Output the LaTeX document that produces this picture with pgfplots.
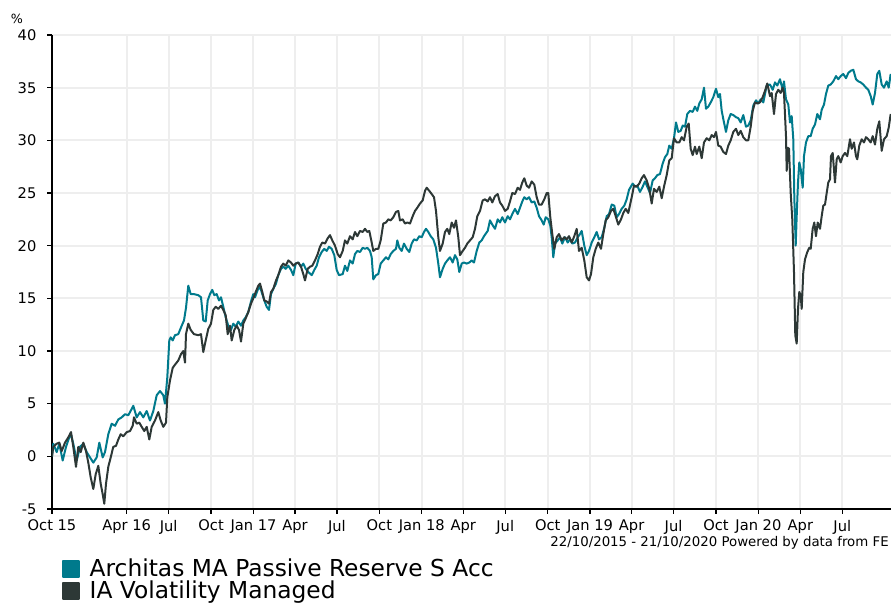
\documentclass[border=0pt]{standalone}
\usepackage{fontspec}
\setmainfont{DejaVu Sans}
\usepackage{pgfplots}
\pgfplotsset{compat=1.18}
\definecolor{fteal}{RGB}{0,122,140}
\definecolor{fdark}{RGB}{45,56,54}
\definecolor{fgrid}{RGB}{238,238,238}
\begin{document}
\begin{tikzpicture}
\begin{axis}[
 at={(0,0)}, anchor=south west,
 scale only axis, width=629.25pt, height=355.5pt,
 xmin=0, xmax=1819.6, ymin=-5, ymax=40,
 x filter/.expression={(x-52)/0.4611},
 axis x line*=bottom, axis y line*=left,
 axis line style={line width=1.1pt,black},
 xtick={0,162,253,345,437,527,618,710,802,892,983,1075,1167,1257,1348,1440,1532,1623,1714},
 xticklabels={Oct 15,Apr 16,Jul,Oct,Jan 17,Apr,Jul,Oct,Jan 18,Apr,Jul,Oct,Jan 19,Apr,Jul,Oct,Jan 20,Apr,Jul},
 ytick={-5,0,...,40}, yticklabels={-5,0,5,10,15,20,25,30,35,40},
 tick align=outside, major tick length=3.5pt,
 tick style={black, line width=1pt},
 grid=major, major grid style={fgrid, line width=1.5pt},
 ticklabel style={font=\fontsize{11}{13}\selectfont},
 xticklabel style={inner sep=0pt, yshift=-4.5pt},
 yticklabel style={inner sep=0pt, xshift=-8pt},
 /pgf/number format/assume math mode=true,
 clip mode=individual,
 legend style={at={(0.0115,-0.1065)}, anchor=north west, draw=none, fill=none, inner sep=0pt, outer sep=0pt, row sep=2.5pt, column sep=7.5pt, font=\fontsize{17.5}{21}\selectfont, nodes={inner sep=0pt, text height=13pt, text depth=1pt}},
 legend cell align=left,
 legend image code/.code={\fill[#1] (0pt,-6pt) rectangle (12pt,6pt);},
]
\addplot[fteal, line width=1.5pt, line join=round] coordinates {
(52,0) (53.3,1.2) (56.7,0.4) (59.3,1.2) (62.7,-0.4) (66,0.9) (70.7,2.2) (73.3,1.2) (76.7,-0.4) (80,0.9)
(83.3,1.2) (86.7,0.4) (90,-0.1) (93.3,-0.6) (96.7,-0.1) (99.3,1.3) (102.7,-0.1) (105,0.4) (108.3,2.1) (111.7,3.1)
(115,2.9) (118.3,3.5) (121.7,3.7) (125,4.0) (128.3,3.9) (131.7,4.5) (133.3,4.8) (136.7,3.7) (140,4.2) (143.3,3.7)
(146.7,4.3) (150,3.4) (153.3,4.3) (156.7,5.8) (160,6.2) (163.3,5.8) (165,5.0) (167.3,7.5) (169.3,11.0) (170.7,11.3)
(172.7,11.0) (175,11.5) (178.3,11.6) (181.7,12.4) (184,12.9) (186,14.1) (188.3,16.2) (190.7,15.4) (194,15.4)
(198.3,15.3) (201,15.1) (203.3,12.9) (205.7,12.8) (207.7,14.8) (210,15.4) (212.3,15.8) (214.3,15.3) (216.7,15.4)
(219,14.8) (221,15.1) (223.3,14.2) (225.7,13.2) (228.3,12.4) (231,12.0) (233.3,12.6) (235.7,12.3) (238.3,12.8)
(241,12.4) (243.3,12.9) (245.7,13.2) (248.3,13.7) (251,14.7) (253.3,15.4) (255,15.1) (257.7,15.8) (260,16.1)
(262.3,15.4) (264.3,14.8) (266.7,14.2) (269,13.9) (271,15.4) (273.3,15.9) (276,16.4) (278.3,17.2) (281,17.8)
(283.3,18.0) (285.7,17.8) (288.3,18.1) (291,17.7) (293.3,17.2) (295.7,18.3) (298.3,18.4) (301,18.0) (303.3,18.3)
(305.7,17.8) (308.3,17.5) (311.7,17.2) (314.3,17.7) (316.7,18.1) (319,18.9) (321.7,19.4) (324.3,19.7) (326.7,19.5)
(329,19.9) (331.7,19.7) (334.3,19.1) (336.7,17.7) (339,17.2) (342.7,17.3) (345,18.1) (347.3,17.6) (350,18.6)
(352.7,18.3) (355,19.2) (357.3,19.5) (360,19.4) (362.7,19.8) (365,19.7) (367.3,19.8) (370,19.5) (371.7,18.9)
(373.3,16.8) (376,17.2) (378.3,17.3) (380.7,18.3) (383.3,18.6) (386,18.9) (388.3,18.7) (390.7,19.2) (393.3,19.5)
(396,19.7) (397.3,20.5) (399.3,19.8) (401.7,19.5) (404,20.2) (406.7,19.7) (409.3,19.4) (411.7,20.2) (414,20.6)
(416.7,20.5) (419.3,20.9) (421.7,20.8) (424,21.3) (426,21.6) (428.3,21.3) (430.7,20.9) (433.3,20.6) (436,19.8)
(438.3,18.3) (440,17.0) (442.7,17.8) (445,18.3) (447.3,18.6) (450,18.9) (452.7,18.4) (455,19.1) (457.3,18.7)
(459.3,17.5) (461.7,18.3) (464,18.4) (466.7,18.3) (469.3,18.4) (471.7,18.6) (474,18.4) (476.7,19.5) (479.3,20.3)
(481.7,20.5) (484,20.9) (487.7,21.4) (490,22.4) (492.3,22.0) (495,21.6) (497.7,22.5) (500,22.2) (502.3,22.7)
(505,22.2) (507.7,22.8) (510,22.5) (512.3,23.0) (515,23.5) (517.7,23.0) (520,23.6) (522.3,24.2) (524.3,24.6)
(526.7,24.4) (529,24.6) (531.7,24.1) (534.3,24.2) (536.7,23.6) (539,22.8) (541.7,22.4) (543.7,22.0) (545.7,22.7)
(548.3,22.5) (550.3,21.9) (551.7,20.8) (553.3,18.9) (555,20.2) (557.7,20.5) (560,20.8) (562.3,20.2) (565,20.8)
(567.7,20.3) (570,20.6) (572.3,20.2) (575,20.3) (577.7,20.8) (580,21.1) (581.7,21.4) (584.3,20.0) (586.7,19.1)
(589,19.5) (591.7,20.3) (594.3,20.8) (596.7,21.3) (599,20.6) (601.7,20.8) (604.3,21.7) (606.7,22.8) (609,23.0)
(611.7,23.9) (614.3,23.8) (616.7,22.7) (619,23.0) (621.7,23.5) (624.3,23.8) (626.7,24.4) (629,25.3) (632.7,25.9)
(635,25.6) (637.3,25.7) (640,25.1) (642.7,25.6) (645,26.1) (647.3,25.6) (650,25.0) (652.7,26.2) (655,26.4)
(657.3,26.7) (660,26.8) (662.7,27.8) (665,28.4) (667.3,28.7) (669.3,29.5) (671.7,29.2) (674,30.2) (676,31.7)
(678.3,30.8) (680.7,30.9) (682.7,31.4) (685,31.3) (687.3,32.5) (690,32.8) (692.7,32.7) (695,33.2) (697.3,32.8)
(699.3,33.5) (701.7,33.9) (704,35.0) (706,33.0) (708.3,33.2) (710.7,33.6) (713.3,34.1) (716,34.9) (718.3,34.1)
(720,34.4) (721.7,32.8) (724,31.7) (726,30.8) (728.3,31.9) (730.7,32.5) (733.3,32.4) (736,32.2) (738.3,32.1)
(740.7,31.7) (743.3,32.4) (746,31.3) (748.3,31.4) (750.7,31.9) (753.3,33.3) (756,33.8) (758.3,33.5) (760.7,33.9)
(763.3,33.6) (766.7,35.2) (770,35.3) (772.7,34.8) (775,35.5) (777.3,35.2) (780,35.8) (782.7,34.8) (784,35.6)
(786,33.9) (788.3,33.4) (790,31.7) (791.7,32.3) (793.3,30.1) (794.3,24.7) (795.7,20.0) (796.7,22.8) (798,26.0)
(799.3,27.9) (800.7,27.3) (802.7,25.5) (804,28.5) (806,29.8) (808.3,30.4) (810.7,30.4) (812.7,31.1) (815,31.5)
(817.3,32.5) (820,32.0) (821.7,32.9) (824,33.4) (826,34.4) (828.3,35.2) (830.7,35.3) (833.3,35.6) (836,36.1)
(838.3,35.8) (840.7,36.1) (843.3,36.3) (846,35.9) (848.3,36.4) (850.7,36.6) (853.3,36.7) (856,35.8) (858.3,35.6)
(860.7,35.5) (863.3,35.3) (866,35.0) (868.3,34.8) (870.7,34.2) (872.7,33.4) (875,34.5) (877.3,36.3) (879.3,36.6)
(881.7,35.3) (884,35.0) (886.7,35.6) (888.7,35.0) (890.7,36.3)
};
\addlegendentry{Architas MA Passive Reserve S Acc}
\addplot[fdark, line width=1.5pt, line join=round] coordinates {
(52,0) (53.3,0.9) (56.7,1.2) (59.3,1.3) (61.7,0.5) (65,1.3) (68.3,1.8) (71,2.3) (73.3,0.9) (76,-1.0)
(78.3,0.9) (80.7,0.4) (83.3,1.3) (86,0.5) (88.3,-0.6) (90.7,-2.0) (93.3,-3.1) (95.7,-1.7) (98.3,-0.9) (100.7,-2.6)
(102.7,-3.6) (104.3,-4.5) (106,-2.6) (108.3,-1.0) (110.7,-0.1) (113.3,0.9) (116,1.0) (118.3,1.6) (120.7,2.1) (123.3,1.9)
(126.7,2.3) (130,2.4) (132.7,2.9) (134,3.7) (136.7,3.1) (139.3,3.2) (141.7,2.8) (144.3,2.4) (146.7,2.8) (149.3,1.6)
(151.7,2.8) (155,3.4) (158.3,4.2) (160.7,3.4) (163.3,2.8) (166,3.2) (167.3,5.6) (170,7.2) (172.7,8.4) (175,8.7)
(178.3,9.1) (181,9.7) (183.3,10.0) (185,8.9) (186,11.6) (188.3,12.6) (190.7,12.0) (194,11.6) (198.3,11.5) (201,11.6)
(203.3,9.9) (205.7,11.0) (208.3,12.1) (211,12.6) (213.3,13.9) (215.7,14.2) (218.3,14.0) (221,14.3) (223.3,13.9)
(225.7,13.4) (227.7,11.6) (230,12.4) (231.7,11.0) (234.3,12.0) (236.7,12.4) (239,12.0) (241,10.9) (243.3,12.6)
(245.7,13.1) (248.3,13.7) (251,14.5) (253.3,15.0) (255.7,15.6) (258.3,16.2) (260,16.4) (262.3,15.6) (264.3,14.8)
(266.7,14.7) (269,14.5) (271,15.6) (273.3,15.9) (276,16.7) (278.3,17.2) (281,18.0) (283.3,18.3) (285.7,18.1)
(288.3,18.6) (291,18.4) (293.3,18.1) (295.7,18.3) (298.3,18.4) (301,18.0) (303.3,17.3) (305,16.7) (307.7,17.8)
(310,18.0) (312.3,18.1) (315,18.6) (317.7,19.2) (320,19.9) (322.3,20.3) (325,20.2) (327.7,20.7) (330,21.0)
(332.3,20.5) (335,20.0) (337.7,19.2) (340,18.9) (342.7,19.5) (345,20.5) (347.3,20.2) (350,20.9) (352.7,20.6)
(355,21.3) (357.3,20.9) (360,21.4) (362.7,21.3) (365,21.6) (367.3,21.3) (369.3,21.4) (371.7,20.3) (373.3,19.5)
(376,19.7) (378.3,19.7) (380.7,20.5) (383.3,22.1) (386,22.2) (388.3,22.5) (390.7,22.4) (393.3,22.7) (396,23.2)
(398.3,23.3) (400,22.4) (402.7,22.5) (405,22.1) (407.3,22.2) (410,22.1) (412.7,22.8) (415,23.3) (417.3,23.6)
(420,24.0) (422.7,24.3) (425,25.2) (426.7,25.5) (429.3,25.2) (431.7,24.9) (434,24.6) (436,23.3) (438.3,20.8)
(440,19.5) (442.7,20.2) (445,21.3) (447.3,21.6) (449.3,21.1) (451.7,22.2) (454,21.7) (456,22.4) (458.3,20.8)
(460,19.1) (462.7,19.5) (465,19.8) (467.3,20.2) (470,20.5) (472.7,20.8) (475,21.6) (477.3,22.8) (480,23.3)
(482.7,24.3) (485,24.4) (487.7,24.2) (490,24.6) (492.3,24.1) (495,24.7) (497.7,24.9) (500,24.1) (502.3,23.8)
(505,23.3) (507.7,23.5) (510,24.2) (512.3,25.0) (515,24.9) (517.7,25.5) (520,25.3) (522.3,26.0) (524.3,26.4)
(526.7,25.7) (529,25.5) (531.7,26.1) (534.3,25.8) (536.7,24.6) (539,23.9) (541.7,23.9) (544.3,24.4) (546.7,25.0)
(548.3,25.0) (550.3,22.7) (552.3,21.1) (554.3,19.7) (556.7,20.8) (559,21.1) (561.7,20.5) (564.3,20.8) (566.7,20.6)
(569,20.9) (571.7,20.3) (574.3,20.9) (576.7,21.6) (579,19.5) (581.7,19.8) (584.3,18.6) (586.7,17.0) (589,16.7)
(591,17.3) (593.3,18.9) (595.7,19.7) (598.3,20.3) (601,19.7) (603.3,21.1) (605.7,22.4) (608.3,22.7) (611,23.3)
(613.3,23.5) (615.7,22.8) (618.3,22.0) (621,22.5) (623.3,23.1) (625.7,23.5) (628.3,23.1) (631.7,24.6) (634,25.7)
(636.7,25.6) (639.3,25.9) (641.7,26.4) (644,26.7) (646.7,26.2) (649.3,25.4) (651.7,24.0) (654,25.4) (656.7,25.1)
(659.3,25.6) (661.7,24.5) (664,25.6) (666.7,26.7) (669.3,28.1) (671.7,28.3) (674,30.2) (676.7,29.8) (679.3,29.8)
(681.7,30.3) (684,30.0) (686.7,31.3) (688.7,31.6) (690.7,29.2) (692.7,28.6) (695,29.4) (696.7,28.7) (699.3,29.4)
(701.7,28.3) (704,29.8) (706.7,30.2) (709.3,30.0) (711.7,30.5) (714,30.3) (716,30.8) (718.3,29.5) (720.7,29.4)
(723.3,28.9) (726,28.7) (728.3,29.5) (730.7,30.0) (733.3,30.8) (736,31.1) (738.3,30.5) (740.7,30.9) (743.3,30.3)
(746,30.0) (748.3,30.0) (750.7,31.3) (752.7,32.8) (755,33.6) (757.3,33.5) (760,33.6) (762.7,34.1) (765,34.7)
(767.3,35.4) (770,34.2) (771.7,34.5) (774,32.5) (776,34.4) (778.3,34.8) (780.7,34.5) (782.7,35.0) (784,34.5)
(786,30.4) (786.7,27.1) (787.7,29.3) (789,29.2) (790.7,25.0) (792.3,22.5) (794,17.5) (795.3,11.5) (796.7,10.7)
(798,14.0) (799.3,15.6) (800.7,15.3) (801.7,14.0) (803.3,17.5) (805,18.7) (807.3,19.4) (809.3,19.8) (810.7,19.7)
(812.7,21.6) (814.3,22.2) (816,20.9) (817.7,22.2) (820,21.6) (821.7,22.8) (823.3,23.8) (825,23.9) (826.7,25.0)
(828.3,26.0) (830,26.3) (831,28.5) (832.7,28.8) (835,26.0) (836.7,28.2) (838.3,28.5) (840.7,27.9) (842.7,28.5)
(845,28.8) (847.3,28.5) (850,30.1) (851.7,29.2) (854,29.8) (856,28.5) (857.3,28.2) (859.3,29.5) (861.7,30.1)
(864,29.8) (866,30.3) (868.3,30.1) (870.7,29.8) (872.7,30.4) (875,29.6) (877.3,31.1) (879.3,31.8) (881.7,29.0)
(884,30.1) (886.7,30.4) (888.7,31.2) (890.7,32.5)
};
\addlegendentry{IA Volatility Managed}
\end{axis}
\node[font=\fontsize{9.5}{11}\selectfont, inner sep=0pt] at (-26.25pt,367.5pt) {\%};
\node[anchor=east, font=\fontsize{10}{12}\selectfont, inner sep=0pt] at (627.75pt,-25.5pt) {22/10/2015 - 21/10/2020 Powered by data from FE};
\pgfresetboundingbox
\path[use as bounding box] (-39pt,-73.5pt) rectangle (629.25pt,381.75pt);
\end{tikzpicture}
\end{document}
